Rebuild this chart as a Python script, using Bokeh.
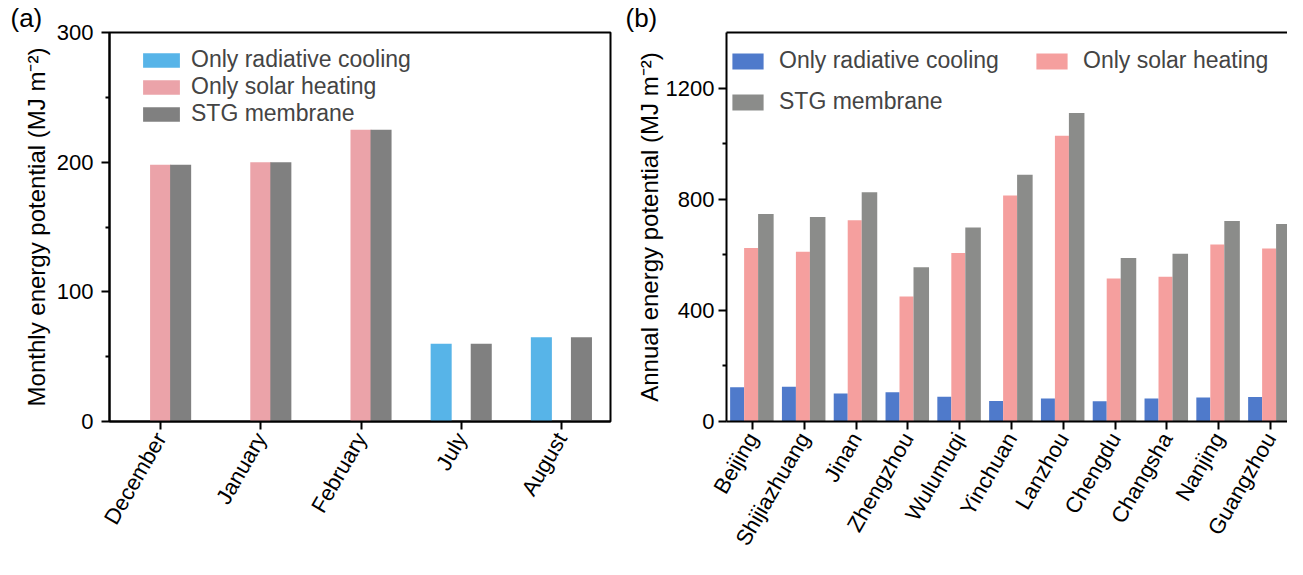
import math
from bokeh.plotting import figure
from bokeh.models import (Range1d, FixedTicker, Legend, LegendItem, Title,
                          LinearAxis, ColumnDataSource)
from bokeh.transform import dodge
from bokeh.layouts import row
from bokeh.embed import file_html
from bokeh.resources import INLINE

# ---------------- data ----------------
months = ["December", "January", "February", "July", "August"]
month_cooling = [0, 0, 0, 60, 65]
month_heating = [198, 200, 225, 0, 0]
month_stg = [198, 200, 225, 60, 65]

cities = ["Beijing", "Shijiazhuang", "Jinan", "Zhengzhou", "Wulumuqi", "Yinchuan",
          "Lanzhou", "Chengdu", "Changsha", "Nanjing", "Guangzhou"]
city_cooling = [123, 125, 101, 105, 89, 74, 83, 73, 83, 86, 88]
city_heating = [624, 611, 724, 450, 606, 813, 1028, 515, 521, 637, 623]
city_stg = [747, 736, 825, 555, 698, 888, 1110, 588, 604, 722, 711]

series_labels = ["Only radiative cooling", "Only solar heating", "STG membrane"]
month_ticks = [0, 100, 200, 300]
month_minor = [50, 150, 250]
city_ticks = [0, 400, 800, 1200]
city_minor = [200, 600, 1000]

FONT = "Liberation Sans"
H = 559


def style_axes(p, ylabel, tick_standoff, label_standoff):
    p.xgrid.visible = False
    p.ygrid.visible = False
    for ax in p.axis:
        ax.axis_line_width = 2
        ax.axis_line_color = "black"
        ax.major_tick_line_width = 2
        ax.major_tick_line_color = "black"
        ax.minor_tick_line_width = 2
        ax.minor_tick_line_color = "black"
        ax.major_tick_in = 0
        ax.major_tick_out = 8
        ax.minor_tick_in = 0
        ax.minor_tick_out = 4
        ax.major_label_text_font = FONT
        ax.major_label_text_font_size = "22px"
        ax.major_label_text_color = "black"
        ax.axis_label_text_font = FONT
        ax.axis_label_text_font_style = "normal"
        ax.axis_label_text_font_size = "24px"
        ax.axis_label_text_color = "black"
    p.yaxis.axis_label = ylabel
    p.yaxis.axis_label_standoff = label_standoff
    p.yaxis.major_label_standoff = tick_standoff
    p.xaxis.major_label_orientation = math.pi / 3
    p.xaxis.major_label_standoff = 5
    p.xaxis.minor_tick_line_color = None


def panel_title(text, offset):
    return Title(text=text, align="left", offset=offset, standoff=0,
                 text_font=FONT, text_font_size="26px", text_font_style="normal",
                 text_color="black")


# ---------------- panel (a) ----------------
src_a = ColumnDataSource(dict(x=list(range(len(months))), cool=month_cooling,
                              heat=month_heating, stg=month_stg))
pa = figure(width=618, height=H, output_backend="svg", toolbar_location=None,
            x_range=Range1d(-0.51, 4.49), y_range=Range1d(0, 300),
            min_border_left=109, min_border_right=8, min_border_top=32,
            min_border_bottom=130, title=panel_title("(a)", -99))
pa.outline_line_color = "black"
pa.outline_line_width = 2
pa.outline_line_alpha = 1

ra1 = pa.vbar(x=dodge("x", -0.2, range=pa.x_range), top="cool", width=0.21,
              source=src_a, fill_color="#57B4E8", line_color=None)
ra2 = pa.vbar(x=dodge("x", 0.0, range=pa.x_range), top="heat", width=0.21,
              source=src_a, fill_color="#EBA3A9", line_color=None)
ra3 = pa.vbar(x=dodge("x", 0.2, range=pa.x_range), top="stg", width=0.21,
              source=src_a, fill_color="#808080", line_color=None)

style_axes(pa, "Monthly energy potential (MJ m\u207b\u00b2)", 8, 4)
pa.xaxis.ticker = FixedTicker(ticks=list(range(len(months))))
pa.xaxis.major_label_overrides = {i: m for i, m in enumerate(months)}
pa.yaxis.ticker = FixedTicker(ticks=month_ticks, minor_ticks=month_minor)

leg_a = Legend(items=[LegendItem(label=series_labels[0], renderers=[ra1]),
                      LegendItem(label=series_labels[1], renderers=[ra2]),
                      LegendItem(label=series_labels[2], renderers=[ra3])],
               location=(29, 294), glyph_width=46, glyph_height=18,
               label_standoff=7, spacing=0, padding=0, margin=0,
               label_text_font=FONT, label_text_font_size="23px",
               border_line_color=None, background_fill_alpha=0)
pa.add_layout(leg_a)

# ---------------- panel (b) ----------------
src_b = ColumnDataSource(dict(x=list(range(len(cities))), cool=city_cooling,
                              heat=city_heating, stg=city_stg))
pb = figure(width=669, height=H, output_backend="svg", toolbar_location=None,
            x_range=Range1d(-0.5, 10.33), y_range=Range1d(0, 1400),
            min_border_left=108, min_border_right=0, min_border_top=32,
            min_border_bottom=130, title=panel_title("(b)", -101))
pb.outline_line_color = None

rb1 = pb.vbar(x=dodge("x", -0.295, range=pb.x_range), top="cool", width=0.27,
              source=src_b, fill_color="#4F7ACB", line_color=None)
rb2 = pb.vbar(x=dodge("x", -0.025, range=pb.x_range), top="heat", width=0.27,
              source=src_b, fill_color="#F59F9E", line_color=None)
rb3 = pb.vbar(x=dodge("x", 0.26, range=pb.x_range), top="stg", width=0.30,
              source=src_b, fill_color="#8B8C8A", line_color=None)

style_axes(pb, "Annual energy potential (MJ m\u207b\u00b2)", 4, 0)
pb.xaxis.ticker = FixedTicker(ticks=list(range(len(cities))))
pb.xaxis.major_label_overrides = {i: c for i, c in enumerate(cities)}
pb.yaxis.ticker = FixedTicker(ticks=city_ticks, minor_ticks=city_minor)

top_axis = LinearAxis(ticker=FixedTicker(ticks=[]), major_label_text_font_size="0px",
                      major_label_standoff=0, major_tick_out=0, minor_tick_out=0,
                      axis_line_width=2, axis_line_color="black",
                      major_tick_line_color=None, minor_tick_line_color=None)
pb.add_layout(top_axis, "above")

leg_b = Legend(items=[LegendItem(label=series_labels[0], renderers=[rb1]),
                      LegendItem(label=series_labels[1], renderers=[rb2]),
                      LegendItem(label=series_labels[2], renderers=[rb3])],
               location=(2, 306), orientation="horizontal", ncols=2,
               glyph_width=39, glyph_height=20, label_standoff=12, spacing=14,
               label_width=239, padding=0, margin=0,
               label_text_font=FONT, label_text_font_size="23px",
               border_line_color=None, background_fill_alpha=0)
pb.add_layout(leg_b)

layout = row(pa, pb)
open("out.html", "w").write(file_html(layout, INLINE))
